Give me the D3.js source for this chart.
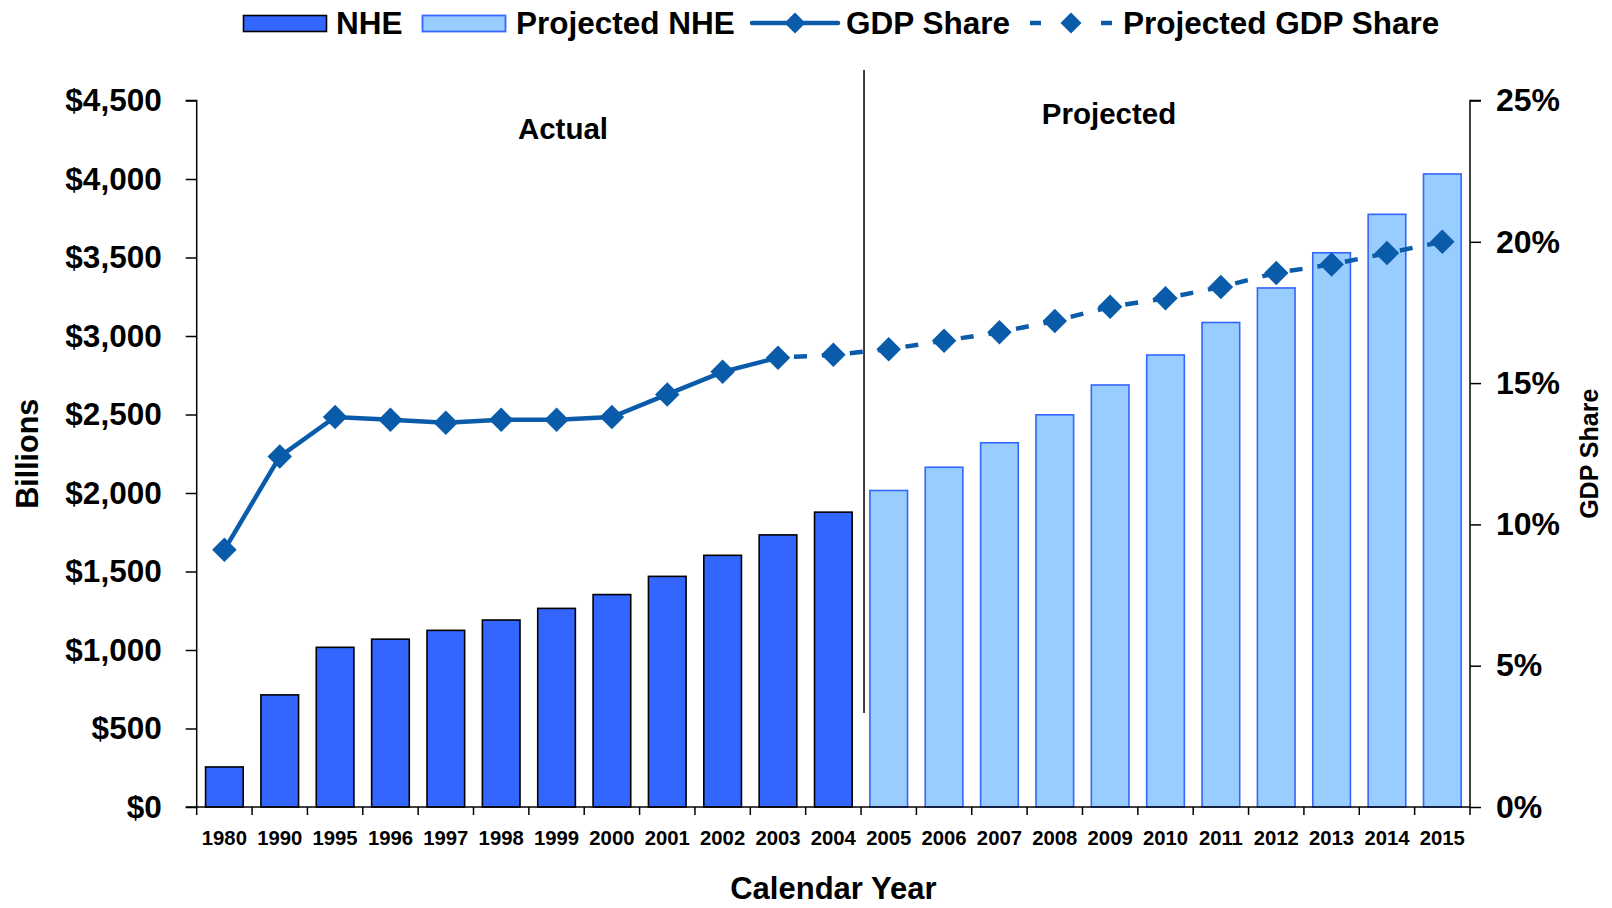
<!DOCTYPE html>
<html>
<head>
<meta charset="utf-8">
<script src="https://cdn.jsdelivr.net/npm/d3@7"></script>
<style>
  html, body { margin: 0; padding: 0; background: #fff; }
  svg { display: block; font-family: "Liberation Sans", Arial, Helvetica, sans-serif; font-weight: bold; }
</style>
</head>
<body>
<svg id="chart" width="1612" height="908"></svg>
<script>
// ---- data ----
const years = ["1980","1990","1995","1996","1997","1998","1999","2000","2001","2002","2003","2004",
               "2005","2006","2007","2008","2009","2010","2011","2012","2013","2014","2015"];
const nheYears = ["1980","1990","1995","1996","1997","1998","1999","2000","2001","2002","2003","2004"];
const nheValues = [255, 714, 1017, 1069, 1125, 1191, 1265, 1353, 1469, 1603, 1733, 1878];
const projYears = ["2005","2006","2007","2008","2009","2010","2011","2012","2013","2014","2015"];
const projValues = [2016, 2164, 2320, 2498, 2688, 2879, 3086, 3306, 3530, 3775, 4032];
const gdpYears = ["1980","1990","1995","1996","1997","1998","1999","2000","2001","2002","2003"];
const gdpShare = [9.1, 12.4, 13.8, 13.7, 13.6, 13.7, 13.7, 13.8, 14.6, 15.4, 15.9];
const projGdpYears = ["2003","2004","2005","2006","2007","2008","2009","2010","2011","2012","2013","2014","2015"];
const projGdpShare = [15.9, 16.0, 16.2, 16.5, 16.8, 17.2, 17.7, 18.0, 18.4, 18.9, 19.2, 19.6, 20.0];
const leftTicks = [0, 500, 1000, 1500, 2000, 2500, 3000, 3500, 4000, 4500];
const rightTicks = [0, 5, 10, 15, 20, 25];
const legendItems = ["NHE", "Projected NHE", "GDP Share", "Projected GDP Share"];

// ---- layout ----
const X0 = 196.7, X1 = 1470, Y0 = 807, Y1 = 100.5;
const darkBlue = "#0A5CAA", nheBlue = "#3366FF", projFill = "#99CCFF";
const FF = "Liberation Sans, Arial, sans-serif";

const svg = d3.select("#chart");
const x = d3.scaleBand().domain(years).range([X0, X1]).paddingInner(0.32).paddingOuter(0.16);
const y = d3.scaleLinear().domain([0, 4500]).range([Y0, Y1]);
const y2 = d3.scaleLinear().domain([0, 25]).range([Y0, Y1]);
const step = x.step();
const cx = d => x(d) + x.bandwidth() / 2;

// bars
svg.append("g").selectAll("rect").data(nheYears).join("rect")
  .attr("x", d => x(d)).attr("width", x.bandwidth())
  .attr("y", (d, i) => y(nheValues[i])).attr("height", (d, i) => Y0 - y(nheValues[i]))
  .attr("fill", nheBlue).attr("stroke", "#000").attr("stroke-width", 1.6);
svg.append("g").selectAll("rect").data(projYears).join("rect")
  .attr("x", d => x(d)).attr("width", x.bandwidth())
  .attr("y", (d, i) => y(projValues[i])).attr("height", (d, i) => Y0 - y(projValues[i]))
  .attr("fill", projFill).attr("stroke", nheBlue).attr("stroke-width", 1.6);

// divider
const divX = x("2005") - (step - x.bandwidth()) / 2 + 3;
svg.append("line").attr("x1", divX).attr("x2", divX).attr("y1", 70).attr("y2", 713)
  .attr("stroke", "#000").attr("stroke-width", 1.5);

// left axis
const gL = svg.append("g").attr("transform", `translate(${X0},0)`)
  .call(d3.axisLeft(y).tickValues(leftTicks).tickSize(11).tickPadding(24)
        .tickFormat(d => "$" + d3.format(",")(d)));
gL.select(".domain").attr("stroke", "#000").attr("stroke-width", 1.5).attr("d", `M-11,${Y1}H0V${Y0}`);
gL.selectAll(".tick line").attr("stroke-width", 1.5);
gL.selectAll("text").attr("font-size", 31.5).attr("font-weight", "bold").attr("font-family", FF).attr("fill", "#000");

// right axis
const gR = svg.append("g").attr("transform", `translate(${X1},0)`)
  .call(d3.axisRight(y2).tickValues(rightTicks).tickSize(11).tickPadding(15).tickFormat(d => d + "%"));
gR.select(".domain").attr("stroke", "#000").attr("stroke-width", 1.5).attr("d", `M11,${Y1}H0V${Y0}`);
gR.selectAll(".tick line").attr("stroke-width", 1.5);
gR.selectAll("text").attr("font-size", 32).attr("font-weight", "bold").attr("font-family", FF).attr("fill", "#000");

// bottom axis: line, boundary ticks, labels
svg.append("line").attr("x1", X0 - 11).attr("x2", X1).attr("y1", Y0).attr("y2", Y0)
  .attr("stroke", "#000").attr("stroke-width", 1.5);
const boundaries = years.map(d => x(d) - (step - x.bandwidth()) / 2).concat([X1]);
svg.append("g").selectAll("line").data(boundaries).join("line")
  .attr("x1", d => d).attr("x2", d => d).attr("y1", Y0).attr("y2", Y0 + 8)
  .attr("stroke", "#000").attr("stroke-width", 1.5);
svg.append("g").selectAll("text").data(years).join("text")
  .attr("x", d => cx(d)).attr("y", 845).attr("text-anchor", "middle")
  .attr("font-size", 20.3).text(d => d);

// GDP share lines
const lineA = d3.line().x(d => cx(d[0])).y(d => y2(d[1]));
svg.append("path").datum(gdpYears.map((d, i) => [d, gdpShare[i]]))
  .attr("d", lineA).attr("fill", "none").attr("stroke", darkBlue).attr("stroke-width", 4.5);
svg.append("path").datum(projGdpYears.map((d, i) => [d, projGdpShare[i]]))
  .attr("d", lineA).attr("fill", "none").attr("stroke", darkBlue).attr("stroke-width", 4.5)
  .attr("stroke-dasharray", "13,15").attr("stroke-dashoffset", -16);

const diamond = d3.symbol().type(d3.symbolSquare).size(300);
svg.append("g").selectAll("path").data(gdpYears.map((d, i) => [d, gdpShare[i]])).join("path")
  .attr("d", diamond).attr("fill", darkBlue)
  .attr("transform", d => `translate(${cx(d[0])},${y2(d[1])}) rotate(45)`);
svg.append("g").selectAll("path").data(projGdpYears.slice(1).map((d, i) => [d, projGdpShare[i + 1]])).join("path")
  .attr("d", diamond).attr("fill", darkBlue)
  .attr("transform", d => `translate(${cx(d[0])},${y2(d[1])}) rotate(45)`);

// annotations
svg.append("text").attr("x", 563).attr("y", 139).attr("text-anchor", "middle").attr("font-size", 29.5).text("Actual");
svg.append("text").attr("x", 1109).attr("y", 123.5).attr("text-anchor", "middle").attr("font-size", 29.5).text("Projected");

// axis titles
svg.append("text").attr("transform", `translate(38,${(Y0 + Y1) / 2}) rotate(-90)`)
  .attr("text-anchor", "middle").attr("font-size", 30.5).text("Billions");
svg.append("text").attr("transform", `translate(1598,${(Y0 + Y1) / 2}) rotate(-90)`)
  .attr("text-anchor", "middle").attr("font-size", 25).text("GDP Share");
svg.append("text").attr("x", (X0 + X1) / 2).attr("y", 899).attr("text-anchor", "middle")
  .attr("font-size", 31).text("Calendar Year");

// legend
const lg = svg.append("g");
const LY = 23;
lg.append("rect").attr("x", 243.5).attr("y", 15.5).attr("width", 83).attr("height", 16)
  .attr("fill", nheBlue).attr("stroke", "#000").attr("stroke-width", 1.6);
lg.append("rect").attr("x", 422.5).attr("y", 15.5).attr("width", 83).attr("height", 16)
  .attr("fill", projFill).attr("stroke", nheBlue).attr("stroke-width", 1.8);
lg.append("line").attr("x1", 752).attr("x2", 838).attr("y1", LY).attr("y2", LY)
  .attr("stroke", darkBlue).attr("stroke-width", 4.5).attr("stroke-linecap", "round");
lg.append("path").attr("d", d3.symbol().type(d3.symbolSquare).size(220)).attr("fill", darkBlue)
  .attr("transform", `translate(795,${LY}) rotate(45)`);
lg.append("line").attr("x1", 1030).attr("x2", 1041).attr("y1", LY).attr("y2", LY)
  .attr("stroke", darkBlue).attr("stroke-width", 4.5);
lg.append("line").attr("x1", 1101).attr("x2", 1112).attr("y1", LY).attr("y2", LY)
  .attr("stroke", darkBlue).attr("stroke-width", 4.5);
lg.append("path").attr("d", d3.symbol().type(d3.symbolSquare).size(220)).attr("fill", darkBlue)
  .attr("transform", `translate(1071,${LY}) rotate(45)`);
const legX = [336, 516, 846, 1123];
lg.selectAll("text.leg").data(legendItems).join("text").attr("class", "leg")
  .attr("x", (d, i) => legX[i]).attr("y", 33.5).attr("font-size", 31.5).text(d => d);
</script>
</body>
</html>
